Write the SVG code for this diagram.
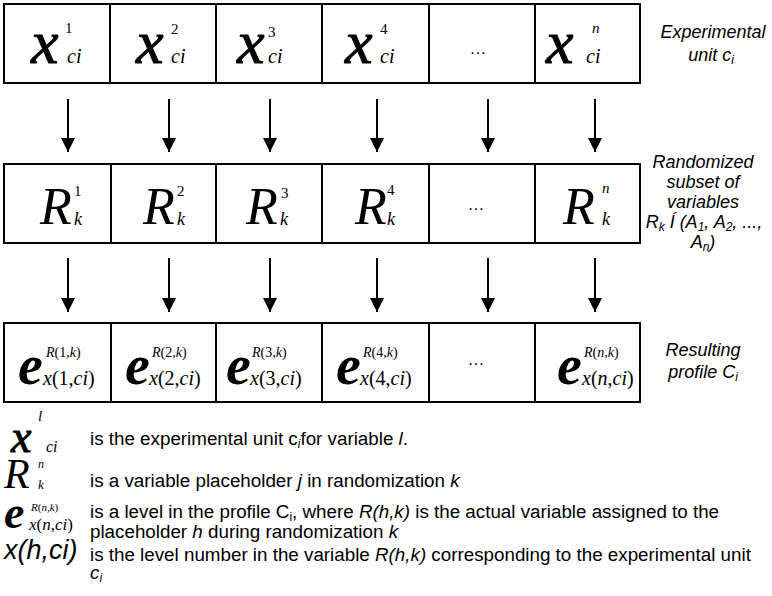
<svg xmlns="http://www.w3.org/2000/svg" width="772" height="596" viewBox="0 0 772 596">
<defs>
<marker id="ah" markerUnits="userSpaceOnUse" markerWidth="14" markerHeight="14" refX="14" refY="7" orient="auto" viewBox="0 0 14 14">
<path d="M0,0 L14,7 L0,14 z" fill="#000"/>
</marker>
<style>
.cell{fill:#fff;stroke:#000;stroke-width:2}
.ser{font-family:"Liberation Serif","DejaVu Serif",serif;fill:#000}
.it{font-style:italic}
.bx{font-family:"Liberation Serif","DejaVu Serif",serif;font-style:italic;font-size:62px;fill:#000;stroke:#000;stroke-width:1}
.bR{font-family:"Liberation Serif","DejaVu Serif",serif;font-style:italic;font-size:52px;fill:#000}
.be{font-family:"Liberation Serif","DejaVu Serif",serif;font-style:italic;font-weight:bold;font-size:56px;fill:#000}
.sup1{font-size:15px}
.sub1{font-size:20px}
.subk{font-size:18px}
.supe{font-size:14px}
.dots{font-family:"Liberation Sans",Arial,sans-serif;font-size:17px;fill:#000;text-anchor:middle}
.lab{font-family:"Liberation Sans",Arial,sans-serif;font-style:italic;font-size:18px;fill:#000;text-anchor:middle}
.t{font-family:"Liberation Sans",Arial,sans-serif;font-size:18.8px;fill:#000}
.arr{stroke:#000;stroke-width:2;fill:none;marker-end:url(#ah)}
</style>
</defs>
<rect width="772" height="596" fill="#fff"/>

<!-- Row 1: experimental unit -->
<g id="x1"><rect class="cell" x="4" y="4" width="106" height="79"/>
<text class="bx" x="31" y="63">x</text><text class="ser sup1" x="65" y="33">1</text><text class="ser it sub1" x="67" y="63">ci</text></g>
<g id="x2"><rect class="cell" x="110" y="4" width="106" height="79"/>
<text class="bx" x="136" y="63">x</text><text class="ser sup1" x="171" y="34">2</text><text class="ser it sub1" x="171" y="63">ci</text></g>
<g id="x3"><rect class="cell" x="216" y="4" width="106" height="79"/>
<text class="bx" x="237" y="63">x</text><text class="ser sup1" x="268" y="37">3</text><text class="ser it sub1" x="268" y="63">ci</text></g>
<g id="x4"><rect class="cell" x="322" y="4" width="107" height="79"/>
<text class="bx" x="345" y="63">x</text><text class="ser sup1" x="380" y="34">4</text><text class="ser it sub1" x="380" y="63">ci</text></g>
<g id="x5"><rect class="cell" x="429" y="4" width="106" height="79"/>
<text class="dots" x="478" y="54">…</text></g>
<g id="xn"><rect class="cell" x="535" y="4" width="105" height="79"/>
<text class="bx" x="546" y="63">x</text><text class="ser it sup1" x="592" y="33">n</text><text class="ser it sub1" x="586" y="63">ci</text></g>
<g id="lab1"><text class="lab" x="713" y="38">Experimental</text><text class="lab" x="711" y="61">unit c<tspan font-size="12" dy="3">i</tspan></text></g>

<!-- Row 2: randomized subset -->
<g id="r1"><rect class="cell" x="4" y="164" width="107" height="79"/>
<text class="bR" x="40" y="224">R</text><text class="ser sup1" x="74" y="196">1</text><text class="ser it subk" x="74" y="225">k</text></g>
<g id="r2"><rect class="cell" x="111" y="164" width="105" height="79"/>
<text class="bR" x="143" y="224">R</text><text class="ser sup1" x="177" y="196">2</text><text class="ser it subk" x="177" y="225">k</text></g>
<g id="r3"><rect class="cell" x="216" y="164" width="106" height="79"/>
<text class="bR" x="246" y="224">R</text><text class="ser sup1" x="281" y="198">3</text><text class="ser it subk" x="280" y="225">k</text></g>
<g id="r4"><rect class="cell" x="322" y="164" width="107" height="79"/>
<text class="bR" x="355" y="224">R</text><text class="ser sup1" x="387" y="195">4</text><text class="ser it subk" x="387" y="225">k</text></g>
<g id="r5"><rect class="cell" x="429" y="164" width="106" height="79"/>
<text class="dots" x="476" y="210">…</text></g>
<g id="rn"><rect class="cell" x="535" y="164" width="105" height="79"/>
<text class="bR" x="563" y="224">R</text><text class="ser it sup1" x="602" y="193">n</text><text class="ser it subk" x="602" y="225">k</text></g>
<g id="lab2">
<text class="lab" x="703" y="168">Randomized</text>
<text class="lab" x="703" y="188">subset of</text>
<text class="lab" x="703" y="208">variables</text>
<text class="lab" x="704" y="228">R<tspan font-size="12" dy="3">k</tspan><tspan dy="-3"> Í (A</tspan><tspan font-size="12" dy="3">1</tspan><tspan dy="-3">, A</tspan><tspan font-size="12" dy="3">2</tspan><tspan dy="-3">, ...,</tspan></text>
<text class="lab" x="703" y="248">A<tspan font-size="12" dy="3">n</tspan><tspan dy="-3">)</tspan></text>
</g>

<!-- Row 3: resulting profile -->
<g id="e1"><rect class="cell" x="4" y="323" width="107" height="79"/>
<text class="be" x="18" y="384">e</text>
<text class="ser supe" x="46" y="357"><tspan class="it">R</tspan>(1,<tspan class="it">k</tspan>)</text>
<text class="ser sub1" x="43" y="385"><tspan class="it">x</tspan>(1,<tspan class="it">ci</tspan>)</text></g>
<g id="e2"><rect class="cell" x="111" y="323" width="105" height="79"/>
<text class="be" x="125" y="384">e</text>
<text class="ser supe" x="152" y="357"><tspan class="it">R</tspan>(2,<tspan class="it">k</tspan>)</text>
<text class="ser sub1" x="149" y="385"><tspan class="it">x</tspan>(2,<tspan class="it">ci</tspan>)</text></g>
<g id="e3"><rect class="cell" x="216" y="323" width="106" height="79"/>
<text class="be" x="226" y="384">e</text>
<text class="ser supe" x="252" y="357"><tspan class="it">R</tspan>(3,<tspan class="it">k</tspan>)</text>
<text class="ser sub1" x="250" y="385"><tspan class="it">x</tspan>(3,<tspan class="it">ci</tspan>)</text></g>
<g id="e4"><rect class="cell" x="322" y="323" width="107" height="79"/>
<text class="be" x="336" y="384">e</text>
<text class="ser supe" x="363" y="357"><tspan class="it">R</tspan>(4,<tspan class="it">k</tspan>)</text>
<text class="ser sub1" x="360" y="385"><tspan class="it">x</tspan>(4,<tspan class="it">ci</tspan>)</text></g>
<g id="e5"><rect class="cell" x="429" y="323" width="106" height="79"/>
<text class="dots" x="476" y="365">…</text></g>
<g id="en"><rect class="cell" x="535" y="323" width="105" height="79"/>
<text class="be" x="557" y="384">e</text>
<text class="ser supe" x="584" y="357"><tspan class="it">R</tspan>(<tspan class="it">n</tspan>,<tspan class="it">k</tspan>)</text>
<text class="ser sub1" x="582" y="385"><tspan class="it">x</tspan>(<tspan class="it">n</tspan>,<tspan class="it">ci</tspan>)</text></g>
<g id="lab3"><text class="lab" x="703" y="356">Resulting</text><text class="lab" x="703" y="378">profile C<tspan font-size="12" dy="3">i</tspan></text></g>

<!-- Connectors -->
<g id="connectors">
<line class="arr" x1="68" y1="99" x2="68" y2="152"/>
<line class="arr" x1="169" y1="99" x2="169" y2="152"/>
<line class="arr" x1="270" y1="99" x2="270" y2="152"/>
<line class="arr" x1="377" y1="99" x2="377" y2="152"/>
<line class="arr" x1="488" y1="99" x2="488" y2="152"/>
<line class="arr" x1="595" y1="99" x2="595" y2="152"/>
<line class="arr" x1="68" y1="258" x2="68" y2="312"/>
<line class="arr" x1="169" y1="258" x2="169" y2="312"/>
<line class="arr" x1="270" y1="258" x2="270" y2="312"/>
<line class="arr" x1="377" y1="258" x2="377" y2="312"/>
<line class="arr" x1="488" y1="258" x2="488" y2="312"/>
<line class="arr" x1="595" y1="258" x2="595" y2="312"/>
</g>

<!-- Legend -->
<g id="legend">
<text class="bx" style="font-size:46px" x="11" y="452">x</text>
<text class="ser it" style="font-size:15px" x="38" y="421">l</text>
<text class="ser it" style="font-size:16px" x="46" y="452">ci</text>
<text class="t" x="90" y="445">is the experimental unit c<tspan font-style="italic" font-size="12" dy="3">i</tspan><tspan dy="-3">for variable </tspan><tspan font-style="italic">l</tspan>.</text>

<text class="bR" style="font-size:42px" x="4" y="488">R</text>
<text class="ser it" style="font-size:12px" x="38" y="468">n</text>
<text class="ser it" style="font-size:13px" x="38" y="489">k</text>
<text class="t" x="90" y="487">is a variable placeholder <tspan font-style="italic">j</tspan> in randomization <tspan font-style="italic">k</tspan></text>

<text class="be" style="font-size:46px" x="4" y="528">e</text>
<text class="ser" style="font-size:11px" x="31" y="511"><tspan class="it">R</tspan>(<tspan class="it">n</tspan>,<tspan class="it">k</tspan>)</text>
<text class="ser" style="font-size:17px" x="29" y="530"><tspan class="it">x</tspan>(<tspan class="it">n</tspan>,<tspan class="it">ci</tspan>)</text>
<text class="t" x="90" y="518">is a level in the profile C<tspan font-size="12" dy="3">i</tspan><tspan dy="-3">, where </tspan><tspan font-style="italic">R(h,k)</tspan> is the actual variable assigned to the</text>
<text class="t" x="90" y="538">placeholder <tspan font-style="italic">h</tspan> during randomization <tspan font-style="italic">k</tspan></text>

<text font-family="Liberation Sans, Arial, sans-serif" font-style="italic" font-size="27" x="4" y="559">x(h,ci)</text>
<text class="t" x="90" y="561">is the level number in the variable <tspan font-style="italic">R(h,k)</tspan> corresponding to the experimental unit</text>
<text class="t" x="90" y="579" font-style="italic">c<tspan font-size="12" dy="3">i</tspan></text>
</g>
</svg>
